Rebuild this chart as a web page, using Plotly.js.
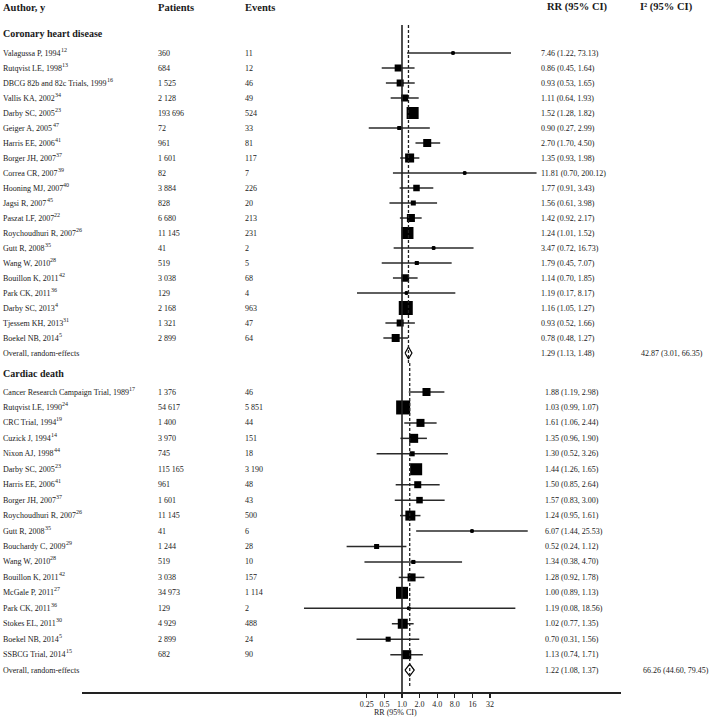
<!DOCTYPE html>
<html><head><meta charset="utf-8">
<script src="https://cdn.plot.ly/plotly-3.0.1.min.js"></script>
<style>html,body{margin:0;padding:0;background:#fff}#chart{width:709px;height:724px}</style>
</head><body><div id="chart"></div>
<script>
// ---------- Coronary heart disease ----------
const chdStudies = ['Valagussa P, 1994','Rutqvist LE, 1998','DBCG 82b and 82c Trials, 1999','Vallis KA, 2002','Darby SC, 2005','Geiger A, 2005','Harris EE, 2006','Borger JH, 2007','Correa CR, 2007','Hooning MJ, 2007','Jagsi R, 2007','Paszat LF, 2007','Roychoudhuri R, 2007','Gutt R, 2008','Wang W, 2010','Bouillon K, 2011','Park CK, 2011','Darby SC, 2013','Tjessem KH, 2013','Boekel NB, 2014'];
const chdRefs = ['12','13','16','34','23','47','41','37','39','40','45','22','26','35','28','42','36','4','31','5'];
const chdPatients = [360,684,1525,2128,193696,72,961,1601,82,3884,828,6680,11145,41,519,3038,129,2168,1321,2899];
const chdEvents = [11,12,46,49,524,33,81,117,7,226,20,213,231,2,5,68,4,963,47,64];
const chdRR = [7.46,0.86,0.93,1.11,1.52,0.90,2.70,1.35,11.81,1.77,1.56,1.42,1.24,3.47,1.79,1.14,1.19,1.16,0.93,0.78];
const chdLo = [1.22,0.45,0.53,0.64,1.28,0.27,1.70,0.93,0.70,0.91,0.61,0.92,1.01,0.72,0.45,0.70,0.17,1.05,0.52,0.48];
const chdHi = [73.13,1.64,1.65,1.93,1.82,2.99,4.50,1.98,200.12,3.43,3.98,2.17,1.52,16.73,7.07,1.85,8.17,1.27,1.66,1.27];
const chdWeight = [0.8,4.3,4.3,4.3,12.6,1.4,5.6,7.1,0.8,3.7,2.2,5.6,12.6,1.0,1.4,4.9,0.8,17.1,4.3,5.6];
const chdOverall = [1.29,1.13,1.48];
const chdI2 = [42.87,3.01,66.35];

// ---------- Cardiac death ----------
const cdStudies = ['Cancer Research Campaign Trial, 1989','Rutqvist LE, 1990','CRC Trial, 1994','Cuzick J, 1994','Nixon AJ, 1998','Darby SC, 2005','Harris EE, 2006','Borger JH, 2007','Roychoudhuri R, 2007','Gutt R, 2008','Bouchardy C, 2009','Wang W, 2010','Bouillon K, 2011','McGale P, 2011','Park CK, 2011','Stokes EL, 2011','Boekel NB, 2014','SSBCG Trial, 2014'];
const cdRefs = ['17','24','19','14','44','23','41','37','26','35','29','28','42','27','36','30','5','15'];
const cdPatients = [1376,54617,1400,3970,745,115165,961,1601,11145,41,1244,519,3038,34973,129,4929,2899,682];
const cdEvents = [46,5851,44,151,18,3190,48,43,500,6,28,10,157,1114,2,488,24,90];
const cdRR = [1.88,1.03,1.61,1.35,1.30,1.44,1.50,1.57,1.24,6.07,0.52,1.34,1.28,1.00,1.19,1.02,0.70,1.13];
const cdLo = [1.19,0.99,1.06,0.96,0.52,1.26,0.85,0.83,0.95,1.44,0.24,0.38,0.92,0.89,0.08,0.77,0.31,0.74];
const cdHi = [2.98,1.07,2.44,1.90,3.26,1.65,2.64,3.00,1.61,25.53,1.12,4.70,1.78,1.13,18.56,1.35,1.56,1.71];
const cdWeight = [5.6,17.1,5.6,7.1,2.2,12.6,4.3,3.7,8.7,0.8,2.2,1.4,5.6,12.6,0.3,8.7,2.2,7.1];
const cdOverall = [1.22,1.08,1.37];
const cdI2 = [66.26,44.60,79.45];

// ---------- Axis / labels ----------
const xTickVals = [0.25,0.5,1,2,4,8,16,32];
const xTickText = ['0.25','0.5','1.0','2.0','4.0','8.0','16','32'];
const colHeaders = ['Author, y','Patients','Events','RR (95% CI)','I\u00B2 (95% CI)'];
const sectionTitles = ['Coronary heart disease','Cardiac death'];
const overallLabel = 'Overall, random-effects';
const axisTitle = 'RR (95% CI)';

// ---------- Layout geometry (page pixels) ----------
const W = 709, H = 724;
const PX_ONE = 402, AXIS_L = 82, AXIS_R = 621, AXIS_Y = 692;
const CHD_PX_PER_DOUBLING = 17.6, CD_PX_PER_DOUBLING = 26.9;
const Y_HEADER = 7, Y_CHD_TITLE = 33, Y_CHD_FIRST = 53, CHD_STEP = 15;
const Y_CD_TITLE = 373, Y_CD_FIRST = 392, CD_STEP = 15.45;
const chdY = chdStudies.map((_, i) => Y_CHD_FIRST + CHD_STEP * i);
const chdOverallY = Y_CHD_FIRST + CHD_STEP * chdStudies.length;
const cdY = cdStudies.map((_, i) => Y_CD_FIRST + CD_STEP * i);
const cdOverallY = Y_CD_FIRST + CD_STEP * cdStudies.length;
const COL_X = {author: 1, patients: 156, events: 243, rrChd: 539, rrCd: 543, i2Chd: 639, i2Cd: 641};
const FONT = 'Liberation Serif, Times New Roman, serif';
const INK = '#1a1a1a';
const ROW_SIZE = 8, SUP_SIZE = 6;

const measureCtx = document.createElement('canvas').getContext('2d');
function textWidth(s, size) {
  measureCtx.font = `${size}px "Liberation Serif", "Times New Roman", serif`;
  return measureCtx.measureText(s).width;
}
function logRange(pxPerDoubling) {
  const perDecade = pxPerDoubling / Math.log10(2);
  return [(AXIS_L - PX_ONE) / perDecade, (AXIS_R - PX_ONE) / perDecade];
}
const fmtInt = n => n.toString().replace(/\B(?=(\d{3})+(?!\d))/g, ' ');
const fmtCI = (e, l, h) => `${e.toFixed(2)} (${l.toFixed(2)}, ${h.toFixed(2)})`;
const boxSide = w => Math.max(3, 3.39 * Math.sqrt(w));

function sectionTraces(rr, lo, hi, wt, ys, overall, oy, xa) {
  const lx = [], ly = [];
  rr.forEach((_, i) => { lx.push(lo[i], hi[i], null); ly.push(ys[i], ys[i], null); });
  return [
    {type:'scatter', mode:'lines', x:lx, y:ly, xaxis:xa, yaxis:'y',
     line:{color:'#2a2a2a', width:1.5}, hoverinfo:'skip'},
    {type:'scatter', mode:'markers', x:rr, y:ys, xaxis:xa, yaxis:'y',
     marker:{symbol:'square', color:'#000', opacity:1, size:wt.map(boxSide), line:{width:0}}, hoverinfo:'skip'},
    {type:'scatter', mode:'markers', x:rr, y:ys, xaxis:xa, yaxis:'y',
     marker:{symbol:'circle', color:'#000', opacity:1, size:4, line:{width:0}}, hoverinfo:'skip'},
    {type:'scatter', mode:'lines', xaxis:xa, yaxis:'y',
     x:[overall[1], overall[0], overall[2], overall[0], overall[1]],
     y:[oy, oy - 6, oy, oy + 6, oy],
     line:{color:'#000', width:1.2}, hoverinfo:'skip'}
  ];
}

const data = [
  ...sectionTraces(chdRR, chdLo, chdHi, chdWeight, chdY, chdOverall, chdOverallY, 'x'),
  ...sectionTraces(cdRR, cdLo, cdHi, cdWeight, cdY, cdOverall, cdOverallY, 'x2')
];

const ann = [];
const txt = (x, y, text, size, bold, anchor) => ann.push({
  xref:'paper', yref:'y', x: x / W, y, text: bold ? `<b>${text}</b>` : text,
  showarrow:false, xanchor: anchor || 'left', yanchor:'middle',
  font:{family:FONT, size, color:INK}
});
// headers
txt(COL_X.author, Y_HEADER, colHeaders[0], 10.5, true);
txt(COL_X.patients, Y_HEADER, colHeaders[1], 10.5, true);
txt(COL_X.events, Y_HEADER, colHeaders[2], 10.5, true);
txt(545, Y_HEADER, colHeaders[3], 10.5, true);
txt(638, Y_HEADER, colHeaders[4], 10.5, true);
txt(COL_X.author, Y_CHD_TITLE, sectionTitles[0], 10, true);
txt(COL_X.author, Y_CD_TITLE, sectionTitles[1], 10, true);

function sectionText(names, refs, pats, evs, rr, lo, hi, ys, overall, oy, i2, rrX, i2X) {
  names.forEach((n, i) => {
    txt(COL_X.author, ys[i], n, ROW_SIZE);
    txt(COL_X.author + textWidth(n, ROW_SIZE) + 0.2, ys[i] - 3.5, refs[i], SUP_SIZE);
    txt(COL_X.patients, ys[i], fmtInt(pats[i]), ROW_SIZE);
    txt(COL_X.events, ys[i], fmtInt(evs[i]), ROW_SIZE);
    txt(rrX, ys[i], fmtCI(rr[i], lo[i], hi[i]), ROW_SIZE);
  });
  txt(COL_X.author, oy, overallLabel, ROW_SIZE);
  txt(rrX, oy, fmtCI(overall[0], overall[1], overall[2]), ROW_SIZE);
  txt(i2X, oy, fmtCI(i2[0], i2[1], i2[2]), ROW_SIZE);
}
sectionText(chdStudies, chdRefs, chdPatients, chdEvents, chdRR, chdLo, chdHi, chdY, chdOverall, chdOverallY, chdI2, COL_X.rrChd, COL_X.i2Chd);
sectionText(cdStudies, cdRefs, cdPatients, cdEvents, cdRR, cdLo, cdHi, cdY, cdOverall, cdOverallY, cdI2, COL_X.rrCd, COL_X.i2Cd);
txt(395, 712, axisTitle, ROW_SIZE, false, 'center');

const shapes = [
  {type:'line', xref:'x', yref:'y', x0:1, x1:1, y0:25, y1:AXIS_Y, line:{color:'#222', width:1.6}},
  {type:'line', xref:'x', yref:'y', x0:chdOverall[0], x1:chdOverall[0], y0:25, y1:363, line:{color:'#222', width:1.3, dash:'3px,2px'}},
  {type:'line', xref:'x2', yref:'y', x0:cdOverall[0], x1:cdOverall[0], y0:363, y1:688, line:{color:'#222', width:1.3, dash:'3px,2px'}}
];

const layout = {
  width: W, height: H, margin:{l:0, r:0, t:0, b:0, pad:0},
  paper_bgcolor:'#fff', plot_bgcolor:'rgba(0,0,0,0)', showlegend:false, hovermode:false,
  xaxis:{type:'log', range:logRange(CHD_PX_PER_DOUBLING), domain:[AXIS_L / W, AXIS_R / W],
    anchor:'free', position: 1 - AXIS_Y / H, showline:true, linecolor:'#222', linewidth:1.6,
    ticks:'outside', ticklen:4, tickwidth:1.2, tickcolor:'#222',
    tickmode:'array', tickvals:xTickVals, ticktext:xTickText,
    tickfont:{family:FONT, size:8, color:INK}, showgrid:false, zeroline:false, fixedrange:true},
  xaxis2:{type:'log', range:logRange(CD_PX_PER_DOUBLING), domain:[AXIS_L / W, AXIS_R / W],
    overlaying:'x', anchor:'y', visible:false, showgrid:false, zeroline:false, fixedrange:true},
  yaxis:{range:[H, 0], domain:[0, 1], visible:false, showgrid:false, zeroline:false, fixedrange:true},
  shapes, annotations: ann
};

Plotly.newPlot('chart', data, layout, {displayModeBar:false, staticPlot:true});
</script></body></html>
